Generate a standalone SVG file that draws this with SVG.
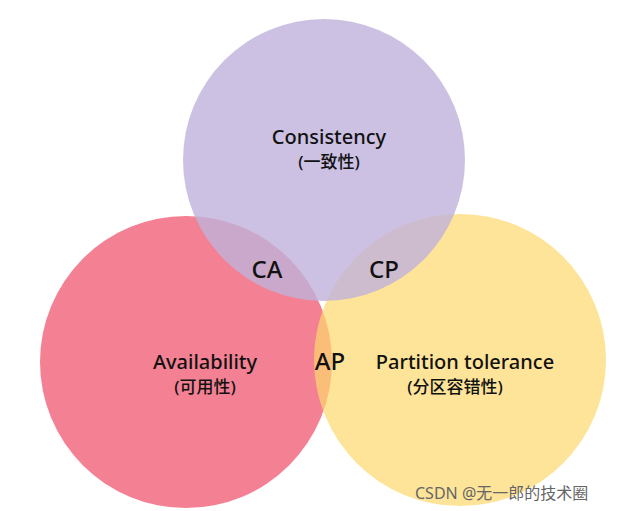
<svg xmlns="http://www.w3.org/2000/svg" width="640" height="511" viewBox="0 0 640 511">
<style>
.t{font-family:"Noto Sans","Noto Sans CJK SC",sans-serif;fill:#111;text-anchor:middle;font-weight:500}
.l{font-size:20px}
.s{font-size:17px}
</style>
<rect width="640" height="511" fill="#fff"/>
<g id="availability"><circle cx="186" cy="362" r="146" fill="#f26b80" fill-opacity="0.85"/></g>
<g id="partition"><circle cx="460" cy="360" r="146" fill="#fdd86e" fill-opacity="0.7"/></g>
<g id="consistency"><circle cx="324" cy="160" r="141" fill="#bfb2db" fill-opacity="0.8"/></g>
<g id="labels">
<text class="t l" x="329" y="144">Consistency</text>
<text class="t s" x="329" y="168">(一致性)</text>
<text class="t l" x="205" y="369">Availability</text>
<text class="t s" x="205" y="393">(可用性)</text>
<text class="t l" x="465" y="369">Partition tolerance</text>
<text class="t s" x="455" y="393">(分区容错性)</text>
<text class="t" style="font-size:24px" x="267" y="278">CA</text>
<text class="t" style="font-size:24px" x="384" y="278">CP</text>
<text class="t" style="font-size:24px" x="330" y="370">AP</text>
<text x="415" y="499" style="font-family:'Noto Sans','Noto Sans CJK SC',sans-serif;font-size:16px;fill:#666">CSDN @无一郎的技术圈</text>
</g>
</svg>
